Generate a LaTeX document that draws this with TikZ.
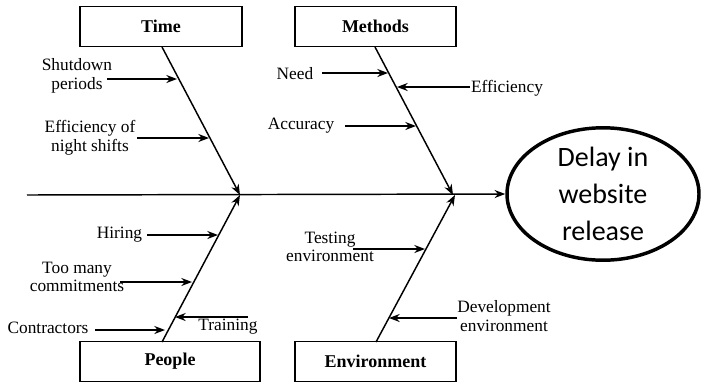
\documentclass[tikz,border=0pt]{standalone}
\usepackage{fontspec}
\setmainfont{Liberation Serif}
\newfontfamily\calib{Carlito}
\usetikzlibrary{shapes.geometric,arrows.meta}
\begin{document}
\begin{tikzpicture}[x=0.75pt,y=-0.75pt,
  catbox/.style={draw,line width=1.1pt,minimum width=#1,minimum height=30pt,inner sep=0pt,font=\fontsize{13.5}{15}\selectfont\bfseries},
  lbl/.style={font=\fontsize{13}{14}\selectfont,align=center,inner sep=0pt},
  bone/.style={line width=1.1pt,-{Stealth[length=8pt,width=6pt]}},
  cause/.style={line width=1.1pt,-{Stealth[length=8pt,width=6pt]}},
  effect/.style={ellipse,draw,line width=2.6pt,minimum width=144pt,minimum height=95pt,inner sep=0pt,align=center,font=\calib\fontsize{21}{27.75}\selectfont}
]
\useasboundingbox (0,0) rectangle (703,383);
% boxes
\node[catbox=121.5pt] (time) at (161,26.5) {Time};
\node[catbox=120.75pt] (meth) at (375.5,26.5) {Methods};
\node[catbox=135pt] (peop) at (170,361.5) {People};
\node[catbox=120.75pt] (env) at (375.5,361.5) {Environment};
\node[effect] (eff) at (603,194) {Delay in\\website\\release};
% spine
\coordinate (sp0) at (27,195);
\coordinate (tj) at (240,195);
\coordinate (mj) at (453,195);
\draw[bone] (sp0) -- (eff.west);
% branches
\coordinate (ts) at (162,47);
\coordinate (ms) at (375,47);
\coordinate (ps) at (162,342);
\coordinate (es) at (376,342);
\coordinate (ej) at (455,195);
\draw[bone] (ts) -- (tj);
\draw[bone] (ms) -- (mj);
\draw[bone] (ps) -- (tj);
\draw[bone] (es) -- (ej);
% Time causes
\node[lbl] (shut) at (77,76) {Shutdown\\periods};
\coordinate (shutA) at (107,79); \coordinate (shutB) at (177,79);
\draw[cause] (shutA) -- (shutB);
\node[lbl] (effn) at (90,138) {Efficiency of\\night shifts};
\coordinate (effnA) at (137,138); \coordinate (effnB) at (209,138);
\draw[cause] (effnA) -- (effnB);
% Methods causes
\node[lbl] (need) at (295,74) {Need};
\coordinate (needA) at (322,73); \coordinate (needB) at (388,73);
\draw[cause] (needA) -- (needB);
\node[lbl] (effi) at (507,88) {Efficiency};
\coordinate (effiA) at (470,87); \coordinate (effiB) at (397,87);
\draw[cause] (effiA) -- (effiB);
\node[lbl] (accu) at (301,126) {Accuracy};
\coordinate (accuA) at (345,126); \coordinate (accuB) at (416,126);
\draw[cause] (accuA) -- (accuB);
% People causes
\node[lbl] (hire) at (119.5,235) {Hiring};
\coordinate (hireA) at (147,235); \coordinate (hireB) at (218,235);
\draw[cause] (hireA) -- (hireB);
\node[lbl] (comm) at (77,277) {Too many\\commitments};
\coordinate (commA) at (120,282); \coordinate (commB) at (192,282);
\draw[cause] (commA) -- (commB);
\node[lbl] (cont) at (48,328) {Contractors};
\coordinate (contA) at (95,330); \coordinate (contB) at (165,330);
\draw[cause] (contA) -- (contB);
\node[lbl] (trai) at (228,327) {Training};
\coordinate (traiA) at (248,317); \coordinate (traiB) at (175,317);
\draw[cause] (traiA) -- (traiB);
% Environment causes
\node[lbl] (test) at (330,247) {Testing\\environment};
\coordinate (testA) at (353,249); \coordinate (testB) at (425,249);
\draw[cause] (testA) -- (testB);
\node[lbl] (devt) at (504,316) {Development\\environment};
\coordinate (devtA) at (457,318); \coordinate (devtB) at (389,318);
\draw[cause] (devtA) -- (devtB);
\end{tikzpicture}
\end{document}
